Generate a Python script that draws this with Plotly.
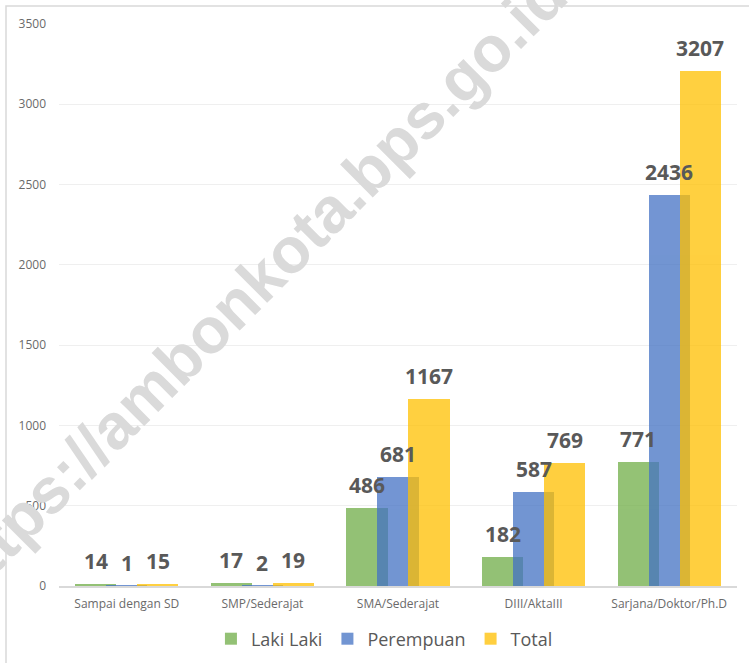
import plotly.graph_objects as go

categories = ["Sampai dengan SD", "SMP/Sederajat", "SMA/Sederajat", "DIII/AktaIII", "Sarjana/Doktor/Ph.D"]
laki_laki = [14, 17, 486, 182, 771]
perempuan = [1, 2, 681, 587, 2436]
total = [15, 19, 1167, 769, 3207]

series = [
    ("Laki Laki", laki_laki, "#70AD47"),
    ("Perempuan", perempuan, "#4472C4"),
    ("Total", total, "#FFC000"),
]

W, H = 749, 663
L, R, T, B = 59, 12, 24, 77
step = 0.2286
bw = 0.305

fig = go.Figure()
annotations = []
for k, (name, vals, col) in enumerate(series):
    xs = [i + (k - 1) * step for i in range(len(categories))]
    fig.add_trace(go.Bar(
        x=xs, y=vals, name=name, width=bw,
        marker=dict(color=col, line=dict(width=0)),
        opacity=0.75,
    ))
    for x, v in zip(xs, vals):
        annotations.append(dict(
            x=x, y=v, xref="x", yref="y", text=f"<b>{v}</b>",
            showarrow=False, yanchor="bottom", xanchor="center", yshift=7,
            font=dict(family="Open Sans", size=21, color="#595959"),
        ))

pw = W - L - R
ph = H - T - B
annotations.append(dict(
    x=(252 - L) / pw, y=(H - B - 287) / ph, xref="paper", yref="paper",
    text="<b>https://ambonkota.bps.go.id</b>", showarrow=False, textangle=-45,
    xanchor="center", yanchor="middle",
    font=dict(family="Liberation Sans", size=64, color="#dadada"),
))

shapes = [dict(type="rect", xref="paper", yref="paper",
               x0=(6 - L) / pw, x1=(770 - L) / pw, y0=(H - B - 680) / ph, y1=(H - B - 6) / ph,
               line=dict(color="#d9d9d9", width=1.5), fillcolor="rgba(0,0,0,0)", layer="below")]

fig.update_layout(
    width=W, height=H,
    margin=dict(l=L, r=R, t=T, b=B, autoexpand=False),
    paper_bgcolor="white", plot_bgcolor="white",
    barmode="overlay",
    bargap=0,
    showlegend=True,
    legend=dict(orientation="h", x=0.48, xanchor="center", y=(H - B - 639) / ph, yanchor="middle",
                font=dict(family="Open Sans", size=18, color="#595959"),
                traceorder="normal"),
    xaxis=dict(range=[-0.5, len(categories) - 0.5], tickvals=list(range(len(categories))),
               ticktext=categories, showgrid=False, zeroline=False,
               showline=True, linecolor="#d9d9d9", linewidth=2, ticks="",
               tickfont=dict(family="Open Sans", size=12, color="#6a6a6a"),
               ticklabelstandoff=6, automargin=False),
    yaxis=dict(range=[0, 3500], dtick=500, showgrid=True, gridcolor="#efefef", gridwidth=1,
               zeroline=False, showline=False, ticks="",
               tickfont=dict(family="Open Sans", size=12, color="#6a6a6a"),
               ticklabelstandoff=12, automargin=False),
    annotations=annotations,
    shapes=shapes,
)

fig.write_html("out.html", config={"displayModeBar": False},
               post_script="document.body.style.margin='0';document.body.style.overflow='hidden';")
